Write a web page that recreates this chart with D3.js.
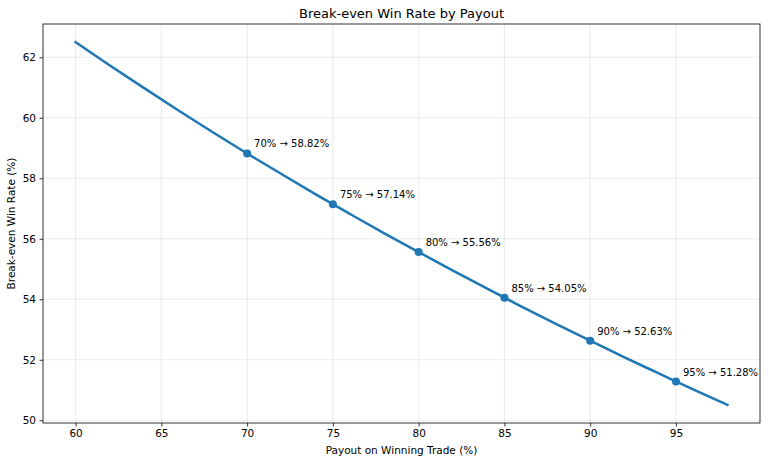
<!DOCTYPE html>
<html><head><meta charset="utf-8">
<script src="https://cdn.jsdelivr.net/npm/d3@7"></script>
<style>body{margin:0;background:#fff}svg{display:block;font-family:"DejaVu Sans",sans-serif}</style>
</head><body><svg id="c" width="768" height="464"></svg>
<script>
const payouts = [60,62,64,66,68,70,72,74,76,78,80,82,84,86,88,90,92,94,96,98];
const breakEven = [62.50,61.73,60.98,60.24,59.52,58.82,58.14,57.47,56.82,56.18,55.56,54.95,54.35,53.76,53.19,52.63,52.08,51.55,51.02,50.51];
const markPayouts = [70,75,80,85,90,95];
const markValues = [58.82,57.14,55.56,54.05,52.63,51.28];
const xTicks = [60,65,70,75,80,85,90,95];
const yTicks = [50,52,54,56,58,60,62];

const svg = d3.select("#c");
const L=43,T=24,R=760,B=423;
const x = d3.scaleLinear().domain([58.1,99.9]).range([L,R]);
const y = d3.scaleLinear().domain([49.91,63.1]).range([B,T]);

const g = svg.append("g");
g.selectAll(".gx").data(xTicks).enter().append("line")
 .attr("x1",d=>x(d)).attr("x2",d=>x(d)).attr("y1",T).attr("y2",B)
 .attr("stroke","#b0b0b0").attr("stroke-opacity",0.3).attr("stroke-width",0.8);
g.selectAll(".gy").data(yTicks).enter().append("line")
 .attr("y1",d=>y(d)).attr("y2",d=>y(d)).attr("x1",L).attr("x2",R)
 .attr("stroke","#b0b0b0").attr("stroke-opacity",0.3).attr("stroke-width",0.8);

const xa = svg.append("g").attr("transform",`translate(0,${B})`)
 .call(d3.axisBottom(x).tickValues(xTicks).tickSize(3.5).tickPadding(3.5).tickFormat(d3.format("d")));
const ya = svg.append("g").attr("transform",`translate(${L},0)`)
 .call(d3.axisLeft(y).tickValues(yTicks).tickSize(3.5).tickPadding(3.5).tickFormat(d3.format("d")));
[xa,ya].forEach(a=>{a.select(".domain").remove();a.selectAll("text").attr("font-size",10.5).attr("fill","#000").attr("font-family","DejaVu Sans");a.selectAll("line").attr("stroke","#000").attr("stroke-width",0.8);});

svg.append("rect").attr("x",L).attr("y",T).attr("width",R-L).attr("height",B-T)
 .attr("fill","none").attr("stroke","#000").attr("stroke-width",0.8);

const line = d3.line().x((d,i)=>x(payouts[i])).y(d=>y(d)).curve(d3.curveMonotoneX);
svg.append("path").datum(breakEven).attr("d",line).attr("fill","none")
 .attr("stroke","#1f77b4").attr("stroke-width",2.5).attr("stroke-linecap","square");

svg.selectAll(".m").data(markValues).enter().append("circle")
 .attr("cx",(d,i)=>x(markPayouts[i])).attr("cy",d=>y(d)).attr("r",4).attr("fill","#1f77b4");
svg.selectAll(".lab").data(markValues).enter().append("text")
 .attr("x",(d,i)=>x(markPayouts[i])+7).attr("y",d=>y(d)-6)
 .attr("font-size",10).attr("fill","#000")
 .text((d,i)=>`${markPayouts[i]}% \u2192 ${d.toFixed(2)}%`);

svg.append("text").attr("x",(L+R)/2).attr("y",18).attr("text-anchor","middle")
 .attr("font-size",13).text("Break-even Win Rate by Payout");
svg.append("text").attr("x",(L+R)/2).attr("y",454).attr("text-anchor","middle")
 .attr("font-size",10.5).text("Payout on Winning Trade (%)");
svg.append("text").attr("transform",`translate(15,${(T+B)/2}) rotate(-90)`).attr("text-anchor","middle")
 .attr("font-size",10.5).text("Break-even Win Rate (%)");
</script></body></html>
